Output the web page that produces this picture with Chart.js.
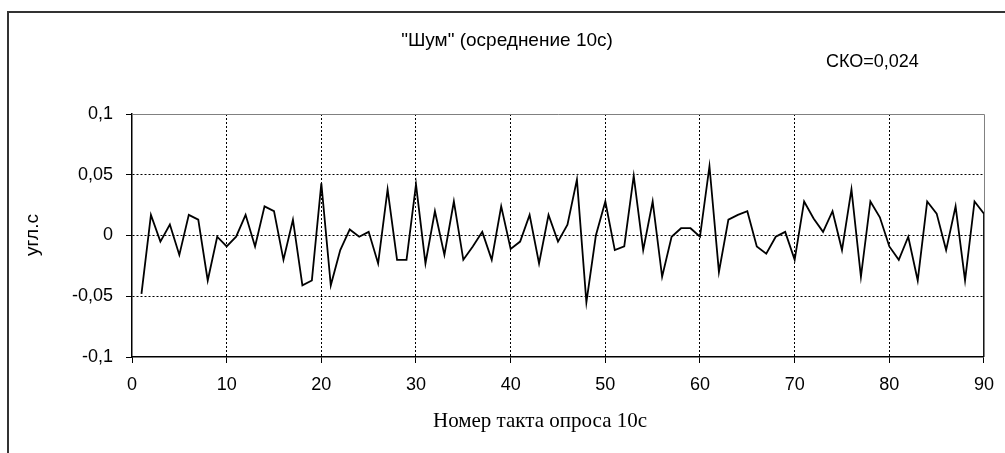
<!DOCTYPE html>
<html>
<head>
<meta charset="utf-8">
<script src="https://cdn.jsdelivr.net/npm/chart.js@4.4.1/dist/chart.umd.min.js"></script>
<style>
  html, body { margin: 0; padding: 0; background: #fff; }
  #wrap { width: 1005px; height: 453px; position: relative; }
</style>
</head>
<body>
<div id="wrap"><canvas id="noiseChart" width="1005" height="453"></canvas></div>
<script>
// readings, tact 1..90
const samples = [
  -0.048, 0.017, -0.005, 0.009, -0.016, 0.017, 0.013, -0.037, -0.001, -0.009,
  -0.001, 0.017, -0.009, 0.024, 0.020, -0.020, 0.013, -0.041, -0.037, 0.043,
  -0.041, -0.012, 0.005, -0.001, 0.003, -0.023, 0.038, -0.020, -0.020, 0.042,
  -0.023, 0.020, -0.016, 0.028, -0.020, -0.009, 0.003, -0.020, 0.024, -0.011,
  -0.005, 0.017, -0.023, 0.017, -0.005, 0.009, 0.046, -0.055, 0.000, 0.028,
  -0.012, -0.009, 0.049, -0.012, 0.028, -0.034, -0.001, 0.006, 0.006, -0.001,
  0.057, -0.030, 0.013, 0.017, 0.020, -0.009, -0.015, -0.001, 0.003, -0.020,
  0.028, 0.014, 0.003, 0.020, -0.012, 0.038, -0.034, 0.028, 0.015, -0.009,
  -0.020, -0.001, -0.037, 0.028, 0.018, -0.012, 0.024, -0.037, 0.028, 0.018
];
// the trace falls off the bottom right at the last tact
const tailX = [90];
const tailY = [-0.1];

const xTicks = [0, 10, 20, 30, 40, 50, 60, 70, 80, 90];
const yTicks = [-0.1, -0.05, 0, 0.05, 0.1];
const yTickLabels = ['-0,1', '-0,05', '0', '0,05', '0,1'];

const points = samples.map((v, i) => ({ x: i + 1, y: v }))
  .concat(tailX.map((x, i) => ({ x: x, y: tailY[i] })));

const sans = 'Liberation Sans, Arial, sans-serif';
const serif = 'Liberation Serif, Times New Roman, serif';

const frameAndTitles = {
  id: 'frameAndTitles',
  beforeDraw(chart) {
    const c = chart.ctx;
    c.save();
    c.fillStyle = '#fff';
    c.fillRect(0, 0, chart.width, chart.height);
    c.restore();
  },
  afterDraw(chart) {
    const c = chart.ctx;
    const a = chart.chartArea;
    c.save();
    // plot box, top and right in grey
    c.strokeStyle = '#808080';
    c.lineWidth = 1;
    c.beginPath();
    c.moveTo(a.left, a.top + 0.5);
    c.lineTo(a.right + 0.5, a.top + 0.5);
    c.lineTo(a.right + 0.5, a.bottom);
    c.stroke();
    // outer frame
    c.strokeStyle = '#333';
    c.lineWidth = 2;
    c.beginPath();
    c.moveTo(8, chart.height);
    c.lineTo(8, 12);
    c.lineTo(chart.width, 12);
    c.stroke();

    c.fillStyle = '#000';
    c.textBaseline = 'middle';
    c.textAlign = 'center';
    c.font = '19px ' + sans;
    c.fillText('"Шум" (осреднение 10с)', 507, 41);
    c.textAlign = 'left';
    c.font = '18px ' + sans;
    c.fillText('СКО=0,024', 826, 62);

    c.textAlign = 'center';
    c.font = '21px ' + serif;
    c.fillText('Номер такта опроса 10с', 540, 421);

    c.font = '19px ' + sans;
    c.translate(33, 235);
    c.rotate(-Math.PI / 2);
    c.fillText('угл.с', 0, 0);
    c.restore();
  }
};

const edge = (vals) => (ctx) => {
  const v = ctx.tick ? ctx.tick.value : null;
  return (v === vals[0] || v === vals[1]) ? 'rgba(0,0,0,0)' : '#000';
};

new Chart(document.getElementById('noiseChart'), {
  type: 'line',
  data: {
    datasets: [{
      data: points,
      borderColor: '#000',
      borderWidth: 1.8,
      pointRadius: 0,
      tension: 0,
      fill: false
    }]
  },
  options: {
    responsive: false,
    animation: false,
    events: [],
    layout: { padding: { left: 0, top: 114, right: 16, bottom: 0 } },
    plugins: { legend: { display: false }, tooltip: { enabled: false }, title: { display: false } },
    scales: {
      x: {
        type: 'linear',
        min: 0,
        max: 90,
        afterBuildTicks: (s) => { s.ticks = xTicks.map(v => ({ value: v })); },
        afterFit: (s) => { s.height = 96; },
        ticks: {
          color: '#000',
          font: { family: sans, size: 18 },
          padding: 11,
          maxRotation: 0,
          autoSkip: false,
          callback: (v) => String(v)
        },
        grid: {
          color: edge([0, 90]),
          lineWidth: 1,
          drawTicks: true,
          tickLength: 6,
          tickColor: '#000',
          tickBorderDash: [],
          tickWidth: 1
        },
        border: { display: true, color: '#000', width: 1.5, dash: [2, 2] }
      },
      y: {
        min: -0.1,
        max: 0.1,
        afterBuildTicks: (s) => { s.ticks = yTicks.map(v => ({ value: v })); },
        afterFit: (s) => { s.width = 132; },
        ticks: {
          color: '#000',
          font: { family: sans, size: 18 },
          padding: 13,
          autoSkip: false,
          callback: (v) => {
            const i = yTicks.findIndex(t => Math.abs(t - v) < 1e-9);
            return i >= 0 ? yTickLabels[i] : '';
          }
        },
        grid: {
          color: edge([-0.1, 0.1]),
          lineWidth: 1,
          drawTicks: true,
          tickLength: 6,
          tickColor: '#000',
          tickBorderDash: [],
          tickWidth: 1
        },
        border: { display: true, color: '#000', width: 1.5, dash: [2, 2] }
      }
    }
  },
  plugins: [frameAndTitles]
});
</script>
</body>
</html>
